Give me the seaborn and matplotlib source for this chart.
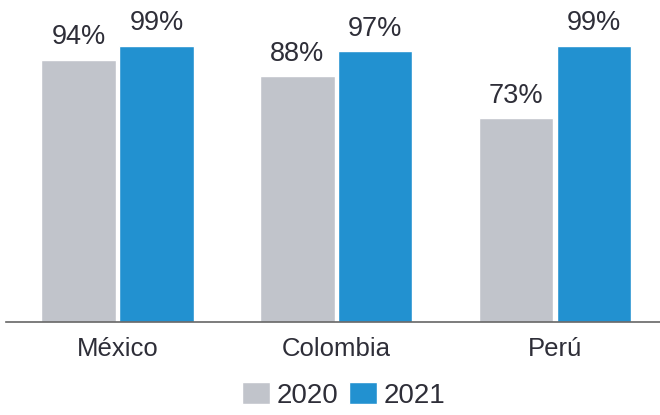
import numpy as np
import pandas as pd
import seaborn as sns
import matplotlib.pyplot as plt
from matplotlib.patches import Patch

# Data
countries = ["México", "Colombia", "Perú"]
years = ["2020", "2021"]
vals_2020 = [94, 88, 73]
vals_2021 = [99, 97, 99]

colors = {"2020": "#c1c4cb", "2021": "#2291d0"}
text_color = "#2e2e38"

df = pd.DataFrame({
    "country": countries * 2,
    "year": [years[0]] * 3 + [years[1]] * 3,
    "value": vals_2020 + vals_2021,
})

sns.set_style("white")
plt.rcParams['font.family'] = ['Liberation Sans', 'DejaVu Sans']

fig = plt.figure(figsize=(6.6, 4.15), dpi=100)
ax = fig.add_axes([6 / 660, 1 - 322 / 415, 1 - 6 / 660, 322 / 415])

sns.barplot(data=df, x="country", y="value", hue="year", palette=colors,
            width=0.71, gap=0.04, ax=ax, legend=False, saturation=1)

for cont in ax.containers:
    ax.bar_label(cont, labels=[f"{int(v)}%" for v in cont.datavalues],
                 padding=7, fontsize=19.5, color=text_color)

ax.set_xlim(-0.51, 2.48)
ax.set_ylim(0, 115.4)
ax.set_yticks([])
ax.set_xlabel("")
ax.set_ylabel("")
for s in ["top", "right", "left"]:
    ax.spines[s].set_visible(False)
ax.spines["bottom"].set_color("#666666")
ax.spines["bottom"].set_linewidth(1.2)
ax.tick_params(axis="x", length=0, pad=11, labelsize=18.5, labelcolor=text_color)

handles = [Patch(facecolor=colors[y], label=y) for y in years]
fig.legend(handles=handles, loc="lower center", bbox_to_anchor=(0.521, -0.022),
           ncol=2, frameon=False, fontsize=20, borderpad=0.05,
           handlelength=1.0, handleheight=0.83,
           handletextpad=0.25, columnspacing=0.36, labelcolor=text_color)

fig.savefig("out.png", dpi=100)
